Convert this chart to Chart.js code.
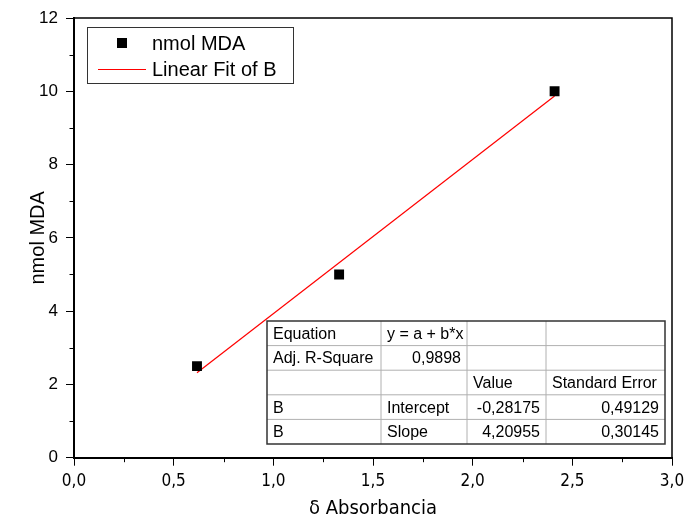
<!DOCTYPE html>
<html><head><meta charset="utf-8">
<script src="https://cdn.jsdelivr.net/npm/chart.js@4"></script>
<style>html,body{margin:0;padding:0;background:#fff;}</style>
</head><body>
<canvas id="c" width="686" height="523"></canvas>
<script>
// ---- data ----
const absorbance = [0.617, 1.33, 2.411];
const nmolMDA = [2.5, 5, 10];
const fitX = [0.617, 2.411];
const fitY = [2.32, 9.87];
const xTicks = [0, 0.5, 1, 1.5, 2, 2.5, 3];
const yTicks = [0, 2, 4, 6, 8, 10, 12];
const xMinor = [0.25, 0.75, 1.25, 1.75, 2.25, 2.75];
const yMinor = [1, 3, 5, 7, 9, 11];
const legendLabels = ['nmol MDA', 'Linear Fit of B'];
const tableRows = [
  ['Equation', 'y = a + b*x', '', ''],
  ['Adj. R-Square', '0,9898', '', ''],
  ['', '', 'Value', 'Standard Error'],
  ['B', 'Intercept', '-0,28175', '0,49129'],
  ['B', 'Slope', '4,20955', '0,30145']
];
const tableAlign = [
  ['l', 'l', 'l', 'l'],
  ['l', 'r', 'l', 'l'],
  ['l', 'l', 'l', 'l'],
  ['l', 'l', 'r', 'r'],
  ['l', 'l', 'r', 'r']
];

const SANS = "'Liberation Sans', Arial, sans-serif";
const NARROW = "'Liberation Sans Narrow', 'Arial Narrow', 'DejaVu Sans Condensed', sans-serif";

const overlay = {
  id: 'overlay',
  afterDraw(chart) {
    const ctx = chart.ctx;
    const a = chart.chartArea;
    const xs = chart.scales.x, ys = chart.scales.y;
    ctx.save();
    // frame top & right
    ctx.strokeStyle = '#000';
    ctx.lineWidth = 1.5;
    ctx.beginPath();
    ctx.moveTo(a.left, a.top); ctx.lineTo(a.right, a.top); ctx.lineTo(a.right, a.bottom);
    ctx.stroke();
    // minor ticks
    ctx.lineWidth = 1;
    ctx.beginPath();
    xMinor.forEach(v => { const p = Math.round(xs.getPixelForValue(v)) + 0.5; ctx.moveTo(p, a.bottom); ctx.lineTo(p, a.bottom + 4.5); });
    yMinor.forEach(v => { const p = Math.round(ys.getPixelForValue(v)) + 0.5; ctx.moveTo(a.left - 4.5, p); ctx.lineTo(a.left, p); });
    ctx.stroke();

    // legend
    const lx = a.left + 13, ly = a.top + 9;
    ctx.strokeStyle = '#333';
    ctx.lineWidth = 1;
    ctx.strokeRect(lx + 0.5, ly + 0.5, 206, 56);
    ctx.fillStyle = '#000';
    ctx.fillRect(lx + 30, ly + 11, 10, 10);
    ctx.strokeStyle = '#ff0000';
    ctx.beginPath(); ctx.moveTo(lx + 11, ly + 42.5); ctx.lineTo(lx + 59, ly + 42.5); ctx.stroke();
    ctx.font = '20px ' + SANS;
    ctx.textBaseline = 'middle';
    ctx.textAlign = 'left';
    ctx.fillText(legendLabels[0], lx + 65, ly + 17);
    ctx.fillText(legendLabels[1], lx + 65, ly + 43);

    // fit table
    const tx0 = a.left + 193, ty0 = a.top + 303;
    const colW = [114, 86, 79, 119];
    const rowH = 24.6;
    const cols = [tx0]; colW.forEach(w => cols.push(cols[cols.length - 1] + w));
    const rows = []; for (let i = 0; i <= tableRows.length; i++) rows.push(ty0 + i * rowH);
    ctx.strokeStyle = '#b0b0b0';
    ctx.lineWidth = 1;
    ctx.beginPath();
    for (let i = 1; i < rows.length - 1; i++) { ctx.moveTo(cols[0], rows[i]); ctx.lineTo(cols[cols.length - 1], rows[i]); }
    for (let j = 1; j < cols.length - 1; j++) { ctx.moveTo(cols[j], rows[0]); ctx.lineTo(cols[j], rows[rows.length - 1]); }
    ctx.stroke();
    ctx.strokeStyle = '#333';
    ctx.lineWidth = 1.5;
    ctx.strokeRect(cols[0], rows[0], cols[cols.length - 1] - cols[0], rows[rows.length - 1] - rows[0]);
    ctx.fillStyle = '#000';
    ctx.font = '16px ' + SANS;
    tableRows.forEach((r, i) => {
      r.forEach((t, j) => {
        if (!t) return;
        const cy = (rows[i] + rows[i + 1]) / 2 + 1;
        if (tableAlign[i][j] === 'r') { ctx.textAlign = 'right'; ctx.fillText(t, cols[j + 1] - 6, cy); }
        else { ctx.textAlign = 'left'; ctx.fillText(t, cols[j] + 6, cy); }
      });
    });
    ctx.restore();
  }
};

new Chart(document.getElementById('c'), {
  type: 'scatter',
  data: {
    datasets: [
      {
        type: 'line',
        label: legendLabels[1],
        data: fitX.map((x, i) => ({x: x, y: fitY[i]})),
        borderColor: '#ff0000',
        borderWidth: 1.2,
        pointRadius: 0,
        fill: false,
        order: 2
      },
      {
        type: 'scatter',
        label: legendLabels[0],
        data: absorbance.map((x, i) => ({x: x, y: nmolMDA[i]})),
        pointStyle: 'rect',
        radius: 7,
        backgroundColor: '#000',
        borderColor: '#000',
        borderWidth: 0,
        order: 1
      }
    ]
  },
  options: {
    responsive: false,
    animation: false,
    devicePixelRatio: 1,
    layout: {padding: {top: 18, right: 14, left: 0, bottom: 0}},
    plugins: {legend: {display: false}, tooltip: {enabled: false}},
    scales: {
      x: {
        type: 'linear', min: 0, max: 3,
        afterBuildTicks: s => { s.ticks = xTicks.map(v => ({value: v})); },
        afterFit: s => { s.height = 65.3; s.paddingLeft = 0; s.paddingRight = 0; },
        grid: {display: true, drawOnChartArea: false, drawTicks: true, tickLength: 8, color: '#000', lineWidth: 1},
        border: {display: true, color: '#000', width: 2},
        ticks: {
          color: '#000', padding: 6, maxRotation: 0, autoSkip: false,
          font: {family: NARROW, size: 17},
          callback: v => v.toFixed(1).replace('.', ',')
        },
        title: {display: true, text: 'δ Absorbancia', color: '#000', font: {family: NARROW, size: 20}, padding: {top: 0, bottom: 2}}
      },
      y: {
        type: 'linear', min: 0, max: 12,
        afterBuildTicks: s => { s.ticks = yTicks.map(v => ({value: v})); },
        afterFit: s => { s.width = 74; s.paddingTop = 0; s.paddingBottom = 0; },
        grid: {display: true, drawOnChartArea: false, drawTicks: true, tickLength: 8, color: '#000', lineWidth: 1},
        border: {display: true, color: '#000', width: 2},
        ticks: {
          color: '#000', padding: 8, autoSkip: false,
          font: {family: SANS, size: 17},
          callback: v => String(v)
        },
        title: {display: true, text: 'nmol MDA', color: '#000', font: {family: SANS, size: 20}, padding: {top: 26, bottom: 0}}
      }
    }
  },
  plugins: [overlay]
});
</script>
</body></html>
